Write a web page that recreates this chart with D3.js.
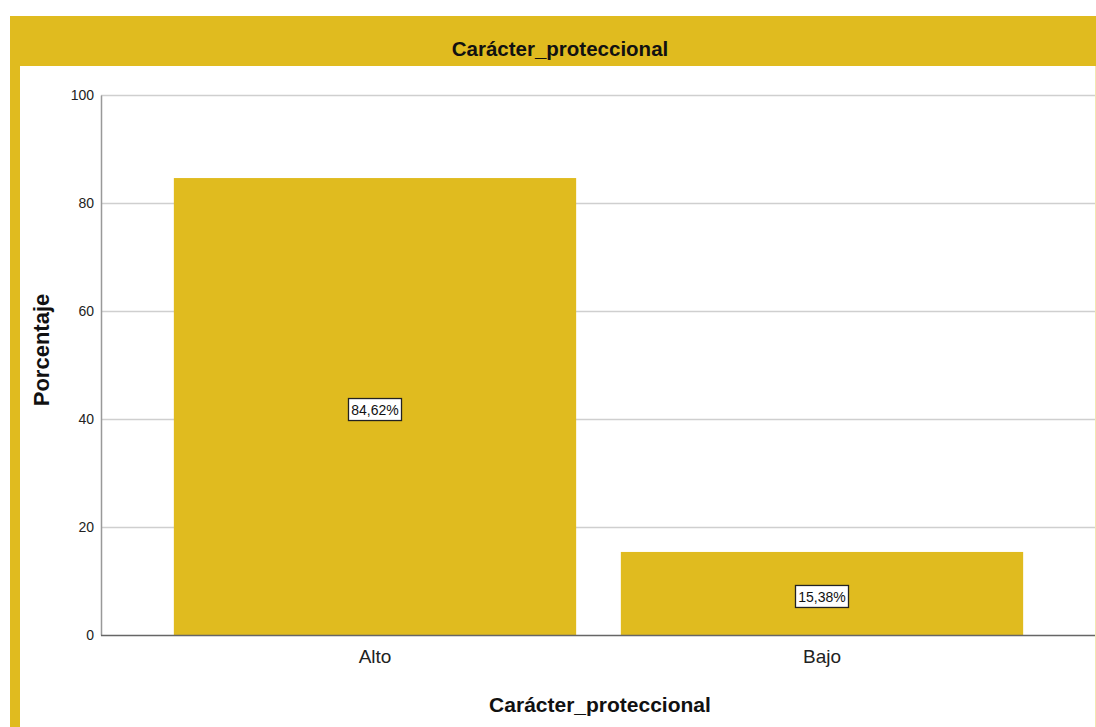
<!DOCTYPE html>
<html><head><meta charset="utf-8">
<script src="https://cdn.jsdelivr.net/npm/d3@7"></script>
<style>body{margin:0;background:#fff;}svg{display:block;font-family:"Liberation Sans",Arial,sans-serif;}</style>
</head><body>
<svg id="c" width="1096" height="727"></svg>
<script>
const categories = ["Alto", "Bajo"];
const percentages = [84.62, 15.38];
const valueLabels = ["84,62%", "15,38%"];
const yTicks = [0, 20, 40, 60, 80, 100];
const title = "Carácter_proteccional";
const xTitle = "Carácter_proteccional";
const yTitle = "Porcentaje";

const gold = "#e0bb1f";
const svg = d3.select("#c");
const FF = "Liberation Sans, Arial, sans-serif";

// frame
svg.append("rect").attr("x",10).attr("y",16).attr("width",1086).attr("height",50).attr("fill",gold);
svg.append("rect").attr("x",10).attr("y",66).attr("width",10).attr("height",661).attr("fill",gold);
svg.append("line").attr("x1",1095.5).attr("x2",1095.5).attr("y1",66).attr("y2",727).attr("stroke","#f3e6b0").attr("stroke-width",1);
svg.append("text").attr("x",560).attr("y",56).attr("text-anchor","middle").attr("font-size",20.5).attr("font-weight","bold").attr("fill","#111").text(title);

const y = d3.scaleLinear().domain([0,100]).range([635,95]);
const x = d3.scaleBand().domain(categories).range([151.5,1045.5]).paddingInner(0.1).paddingOuter(0.05);
const left = 101, right = 1095;

// gridlines
svg.append("g").selectAll("line").data(yTicks.filter(d=>d>0)).join("line")
  .attr("x1",left).attr("x2",right).attr("y1",d=>y(d)+0.5).attr("y2",d=>y(d)+0.5)
  .attr("stroke","#cfcfcf").attr("stroke-width",1.5);

// y axis
const ya = svg.append("g").attr("transform",`translate(${left},0)`)
  .call(d3.axisLeft(y).tickValues(yTicks).tickSize(0).tickPadding(7));
ya.select(".domain").attr("stroke","#999").attr("stroke-width",1.5);
ya.selectAll("text").attr("font-size",14).attr("fill","#222").attr("font-family",FF);

// bars
svg.append("g").selectAll("rect").data(categories).join("rect")
  .attr("x",d=>x(d)).attr("width",x.bandwidth())
  .attr("y",(d,i)=>y(percentages[i])).attr("height",(d,i)=>y(0)-y(percentages[i]))
  .attr("fill",gold);

// x axis
const xa = svg.append("g").attr("transform",`translate(0,${y(0)})`)
  .call(d3.axisBottom(x).tickSize(0).tickPadding(15));
xa.select(".domain").remove();
svg.append("line").attr("x1",left).attr("x2",right).attr("y1",y(0)+0.5).attr("y2",y(0)+0.5).attr("stroke","#666").attr("stroke-width",1.5);
xa.selectAll("text").attr("font-size",19).attr("fill","#222").attr("font-family",FF);

// value labels
const lab = svg.append("g").selectAll("g").data(categories).join("g")
  .attr("transform",(d,i)=>`translate(${x(d)+x.bandwidth()/2},${y(percentages[i]/2)+3})`);
lab.append("rect").attr("x",-26.5).attr("y",-11).attr("width",53).attr("height",22)
  .attr("fill","#fff").attr("stroke","#222").attr("stroke-width",1.3);
lab.append("text").attr("text-anchor","middle").attr("dy","0.36em").attr("font-size",14).attr("fill","#111")
  .text((d,i)=>valueLabels[i]);

// axis titles
svg.append("text").attr("x",600).attr("y",712).attr("text-anchor","middle").attr("font-size",21).attr("font-weight","bold").attr("fill","#111").text(xTitle);
svg.append("text").attr("transform","translate(49,350) rotate(-90)").attr("text-anchor","middle").attr("font-size",22).attr("font-weight","bold").attr("fill","#111").text(yTitle);
</script>
</body></html>
